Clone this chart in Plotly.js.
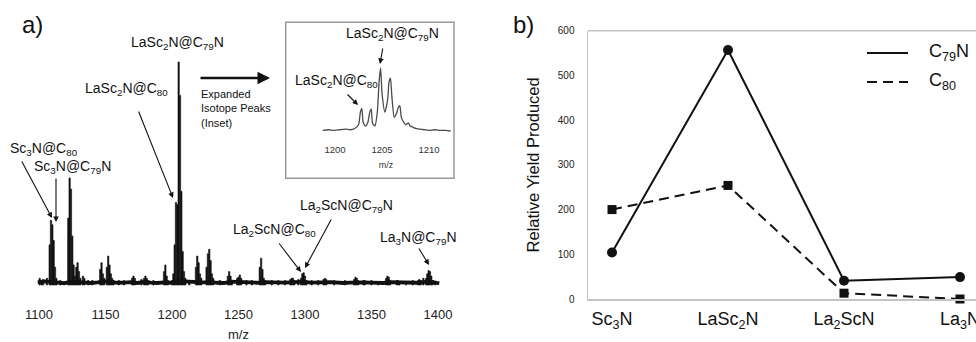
<!DOCTYPE html>
<html>
<head>
<meta charset="utf-8">
<script src="https://cdn.plot.ly/plotly-3.0.1.min.js"></script>
<style>html,body{margin:0;padding:0;background:#fff;overflow:hidden;}#chart{width:976px;height:342px;}</style>
</head>
<body>
<div id="chart"></div>
<script>
// ---- Panel a: mass spectrum (m/z, relative intensity %) ----
const peakMz = [1100.5,1102,1103,1106,
  1108,1109,1110,1111,1112,1113,1116,
  1122,1123,1124,1125,1126,1127,1128,1129,1130,1131,1133,1134,1137,1140,
  1146,1147,1148,1149,1151,1152,1153,1154,1155,1156,1160,1164,
  1170,1171,1172,1177,1179,1180,1181,1182,1186,
  1194,1195,1196,1197,1200,1201,1202,1203,1204,1205,1206,1207,1208,1209,1210,1213,
  1218,1219,1220,1221,1222,1226,1227,1228,1229,1230,1231,1236,
  1242,1243,1244,1245,1249,1250,1251,1252,1256,1260,
  1266,1267,1268,1269,1270,1275,1280,1285,
  1289,1290,1291,1292,1295,1297,1298,1299,1300,1301,1305,1310,
  1314,1315,1316,1322,1330,1337,1338,1339,1340,1344,1345,1350,1355,
  1361,1362,1363,1364,1369,1370,1371,1376,1381,1385,1386,1387,1389,1391,1392,1393,1394,1395,1396,1398];
const peakInt = [3,2,2.5,3,
  18,29,27,20,8,3,2,
  30,48,43,22,9,4,8,10,6,3,4,3,2,2,
  7,10,5,3,8,13,9,5,3,2,2,2,
  3,4,3,2.5,3,4,3,2,2,
  6,9,4,2,2,5,18,37,36,100,85,42,15,6,3,2,
  8,13,10,5,3,8,14,16,11,5,3,2,
  4,6,4,2,3,3.5,4.5,3,2,2,
  8,12,7,3,2,2,2,2,
  2.5,3,3,2,2.5,3,5,5.5,4,2,2,2,
  2.5,3,2.5,2,2,2.5,3.5,3,2,2,2,2,1.5,
  3,4,3.5,2,2,2,1.5,1.5,2,2,2.5,2,3,3,5,6.5,6,4,2,1.5];
const baseMz = [1099,1104,1109,1114,1119,1124,1129,1134,1139,1144,1149,1154,1159,1164,1169,1174,1179,1184,1189,1194,1199,1204,1209,1214,1219,1224,1229,1234,1239,1244,1249,1254,1259,1264,1269,1274,1279,1284,1289,1294,1299,1304,1309,1314,1319,1324,1329,1334,1339,1344,1349,1354,1359,1364,1369,1374,1379,1384,1389,1394,1399,1401];
const baseInt = [1.2,1.6,1.4,1.0,0.8,1.5,1.3,1.1,0.9,1.2,1.6,1.4,1.0,1.1,1.3,0.9,1.4,1.1,0.9,1.2,1.0,1.8,1.6,1.1,1.3,1.2,1.4,1.0,0.9,1.5,1.4,1.1,0.9,1.0,1.3,1.2,0.9,1.1,1.2,1.3,1.5,1.1,1.0,1.2,1.3,1.0,0.9,1.1,1.3,1.2,1.1,1.0,0.9,1.3,1.2,1.1,0.9,1.0,1.3,1.6,1.0,0.8];

// ---- Inset: expanded isotope peaks ----
const insetMz = [1198.7,1199.3,1199.9,1200.5,1201.1,1201.6,1202.1,1202.5,1202.7,1202.85,1203.0,1203.25,1203.5,1203.7,1203.85,1204.0,1204.25,1204.5,1204.7,1204.85,1205.0,1205.3,1205.6,1205.75,1205.9,1206.05,1206.3,1206.55,1206.75,1206.9,1207.05,1207.3,1207.55,1207.8,1208.0,1208.3,1208.6,1209.0,1209.5,1210.0,1210.6,1211.2,1211.8,1212.3];
const insetInt = [1,2,1,2,3,2,4,10,30,36,14,8,14,30,35,12,8,30,80,100,60,30,50,78,84,55,22,28,38,40,22,14,10,13,8,6,4,3,2,1,2,1,1,0];
const mainTicks = [1100,1150,1200,1250,1300,1350,1400];
const insetTicks = [1200,1205,1210];

// ---- Panel b: relative yield ----
const categories = ['Sc<sub>3</sub>N','LaSc<sub>2</sub>N','La<sub>2</sub>ScN','La<sub>3</sub>N'];
const yieldC79N = [104,557,41,49];
const yieldC80 = [200,254,13,0];
const yTicks = [0,100,200,300,400,500,600];

const W = 976, H = 342;
const FONT = 'Liberation Sans, Arial, sans-serif';
const px = (x) => x / W, py = (y) => 1 - y / H;

const traces = [
  {type:'bar', x:peakMz, y:peakInt, width:1.0, marker:{color:'#111', line:{color:'#111', width:0.6}}, xaxis:'x', yaxis:'y', hoverinfo:'skip'},
  {type:'scatter', mode:'lines', x:baseMz, y:baseInt, line:{color:'#111', width:3.8}, xaxis:'x', yaxis:'y', hoverinfo:'skip'},
  {type:'scatter', mode:'lines', x:insetMz, y:insetInt, line:{color:'#4a4a4a', width:1.3, shape:'spline', smoothing:0.6}, xaxis:'x3', yaxis:'y3', hoverinfo:'skip'},
  {type:'scatter', mode:'lines+markers', x:categories, y:yieldC79N, line:{color:'#111', width:2}, marker:{symbol:'circle', size:10, color:'#111'}, xaxis:'x2', yaxis:'y2', cliponaxis:false},
  {type:'scatter', mode:'lines+markers', x:categories, y:yieldC80, line:{color:'#111', width:2, dash:'10px,6px'}, marker:{symbol:'square', size:9, color:'#111'}, xaxis:'x2', yaxis:'y2', cliponaxis:false}
];

function lbl(text, x, y, size, extra) {
  return Object.assign({text:text, x:px(x), y:py(y), xref:'paper', yref:'paper', showarrow:false,
    xanchor:'center', yanchor:'middle', font:{family:FONT, size:size, color:'#111'}}, extra || {});
}
function arrow(tx, ty, hx, hy, w) {
  return {text:'', x:px(hx), y:py(hy), xref:'paper', yref:'paper', showarrow:true,
    ax:tx-hx, ay:ty-hy, arrowhead:2, arrowsize:1, arrowwidth:w || 1.1, arrowcolor:'#111', standoff:0, startstandoff:0};
}

const annotations = [
  lbl('a)', 32, 25, 24),
  lbl('b)', 523, 24, 24),
  lbl('LaSc<sub>2</sub>N@C<sub>79</sub>N', 177, 43, 14),
  lbl('LaSc<sub>2</sub>N@C<sub>80</sub>', 126, 89, 14),
  lbl('Sc<sub>3</sub>N@C<sub>80</sub>', 44, 149, 14),
  lbl('Sc<sub>3</sub>N@C<sub>79</sub>N', 72, 167, 14),
  lbl('La<sub>2</sub>ScN@C<sub>80</sub>', 274, 230, 14),
  lbl('La<sub>2</sub>ScN@C<sub>79</sub>N', 346, 206, 14),
  lbl('La<sub>3</sub>N@C<sub>79</sub>N', 418, 238, 14),
  lbl('LaSc<sub>2</sub>N@C<sub>79</sub>N', 392, 34, 14),
  lbl('LaSc<sub>2</sub>N@C<sub>80</sub>', 336, 81, 14),
  lbl('Expanded<br>Isotope Peaks<br>(Inset)', 199, 108, 11, {xanchor:'left', align:'left'}),
  lbl('C<sub>79</sub>N', 927, 53, 18, {xanchor:'left'}),
  lbl('C<sub>80</sub>', 927, 82, 18, {xanchor:'left'}),
  arrow(138, 110, 173, 198),
  arrow(21, 160, 52, 218),
  arrow(56, 177, 56, 222),
  arrow(278, 242, 301, 272),
  arrow(332, 218, 305, 268),
  arrow(418, 247, 429, 265),
  arrow(199, 78, 270, 78, 2.5),
  arrow(383, 47, 380, 64),
  arrow(346, 93, 358, 105)
];

const shapes = [
  {type:'rect', xref:'paper', yref:'paper', x0:px(285.7), x1:px(454), y0:py(178.3), y1:py(22.3), line:{color:'#999', width:1.5}},
  {type:'line', xref:'paper', yref:'paper', x0:px(588), x1:1, y0:py(30.7), y1:py(30.7), line:{color:'#c4c4c4', width:1.5}},
  {type:'line', xref:'paper', yref:'paper', x0:px(867), x1:px(908), y0:py(53), y1:py(53), line:{color:'#111', width:2}},
  {type:'line', xref:'paper', yref:'paper', x0:px(867), x1:px(908), y0:py(82), y1:py(82), line:{color:'#111', width:2, dash:'10px,6px'}}
];

const layout = {
  width:W, height:H, autosize:false, margin:{l:0, r:0, t:0, b:0, pad:0},
  paper_bgcolor:'#fff', plot_bgcolor:'rgba(0,0,0,0)', showlegend:false, bargap:0,
  font:{family:FONT, color:'#111'},
  xaxis:{domain:[px(28.4), px(448.6)], range:[1092,1408], anchor:'y', tickvals:mainTicks, ticks:'', showline:false, showgrid:false, zeroline:false,
    tickfont:{family:FONT, size:13, color:'#222'}, ticklabelstandoff:13,
    title:{text:'m/z', font:{family:FONT, size:13, color:'#222'}, standoff:11}},
  yaxis:{domain:[py(292), py(40)], range:[-3.14,109.87], anchor:'x', visible:false},
  xaxis3:{domain:[px(320), px(452)], range:[1198.4,1212.45], anchor:'y3', tickvals:insetTicks, ticks:'', showline:false, showgrid:false, zeroline:false,
    tickfont:{family:FONT, size:9.5, color:'#333'}, ticklabelstandoff:8,
    title:{text:'m/z', font:{family:FONT, size:9, color:'#333'}, standoff:8}},
  yaxis3:{domain:[py(134), py(62)], range:[-4.76,109.5], anchor:'x3', visible:false},
  xaxis2:{domain:[px(588), 1], type:'category', range:[-0.207,3.138], anchor:'y2', ticks:'', showline:true, linecolor:'#c4c4c4', linewidth:1.5,
    showgrid:false, zeroline:false, tickfont:{family:FONT, size:18, color:'#111'}, ticklabelstandoff:3},
  yaxis2:{domain:[py(299), py(30.7)], range:[0,600], anchor:'x2', tickvals:yTicks, ticks:'', showline:true, linecolor:'#c4c4c4', linewidth:1.5,
    showgrid:false, zeroline:false, tickfont:{family:FONT, size:10, color:'#222'}, ticklabelstandoff:10,
    title:{text:'Relative Yield Produced', font:{family:FONT, size:16.5, color:'#111'}, standoff:14}},
  annotations:annotations, shapes:shapes
};

Plotly.newPlot('chart', traces, layout, {staticPlot:true, displayModeBar:false});
</script>
</body>
</html>
